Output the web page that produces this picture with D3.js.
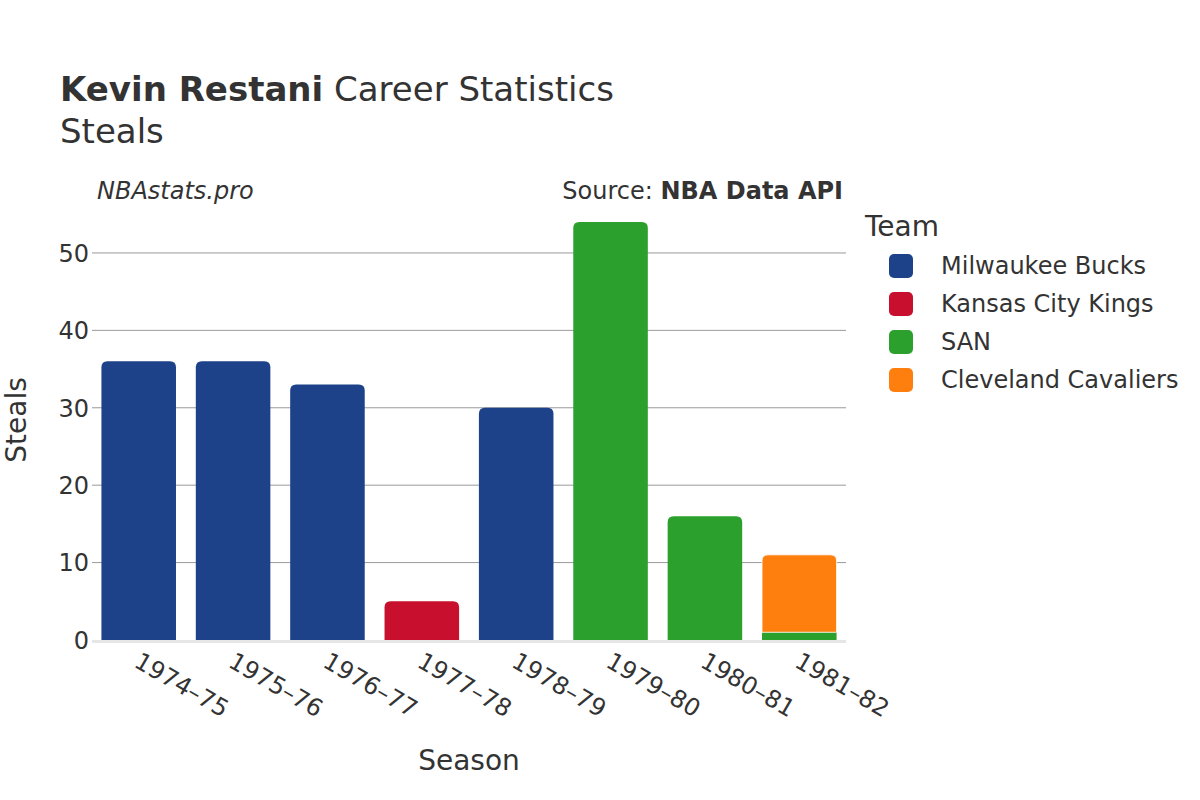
<!DOCTYPE html>
<html>
<head>
<meta charset="utf-8">
<script src="https://d3js.org/d3.v7.min.js"></script>
<style>
  body { margin: 0; background: #fff; }
  text { font-family: "DejaVu Sans", sans-serif; fill: #333; }
</style>
</head>
<body>
<script>
const seasons = ['1974–75', '1975–76', '1976–77', '1977–78', '1978–79', '1979–80', '1980–81', '1981–82'];
const teams = ['Milwaukee Bucks', 'Kansas City Kings', 'SAN', 'Cleveland Cavaliers'];
const teamColors = ['#1d428a', '#c8102e', '#2ca02c', '#ff7f0e'];
// steals per season, per team (stack order bottom to top)
const milwaukee = [36, 36, 33, 0, 30, 0, 0, 0];
const kansasCity = [0, 0, 0, 5, 0, 0, 0, 0];
const san = [0, 0, 0, 0, 0, 54, 16, 1];
const cleveland = [0, 0, 0, 0, 0, 0, 0, 10];
const yTicks = [0, 10, 20, 30, 40, 50];

const series = [milwaukee, kansasCity, san, cleveland];

const width = 1200, height = 800;
const margin = { top: 210, right: 354, bottom: 160, left: 92 };

const svg = d3.select('body').append('svg')
    .attr('width', width)
    .attr('height', height);

const x = d3.scaleBand()
    .domain(seasons)
    .range([margin.left, width - margin.right])
    .paddingInner(0.21)
    .paddingOuter(0.1);

const y = d3.scaleLinear()
    .domain([0, 55.55])
    .range([height - margin.bottom, margin.top]);

// grid
svg.append('g')
    .selectAll('line')
    .data(yTicks.filter(d => d > 0))
    .join('line')
    .attr('x1', margin.left)
    .attr('x2', width - margin.right)
    .attr('y1', d => y(d))
    .attr('y2', d => y(d))
    .attr('stroke', '#999')
    .attr('stroke-width', 1);

// bars
const stacked = seasons.map((s, i) => {
    let base = 0;
    return series.map((arr, t) => {
        const seg = { season: s, team: t, y0: base, y1: base + arr[i] };
        base += arr[i];
        return seg;
    }).filter(d => d.y1 > d.y0);
});

const roundTop = (x0, x1, yb, yt, r) => {
    r = Math.min(r, (yb - yt), (x1 - x0) / 2);
    return `M${x0},${yb}V${yt + r}Q${x0},${yt} ${x0 + r},${yt}H${x1 - r}Q${x1},${yt} ${x1},${yt + r}V${yb}Z`;
};

svg.append('g')
    .selectAll('path')
    .data(stacked.flat())
    .join('path')
    .attr('d', d => {
        const x0 = x(d.season), x1 = x0 + x.bandwidth();
        const yb = y(d.y0), yt = y(d.y1);
        const isTop = stacked[seasons.indexOf(d.season)].slice(-1)[0] === d;
        if (isTop) return roundTop(x0, x1, yb, yt, 6);
        return `M${x0},${yb}V${yt}H${x1}V${yb}Z`;
    })
    .attr('fill', d => teamColors[d.team])
    .attr('stroke', '#fff')
    .attr('stroke-width', d => d.y0 > 0 ? 0.8 : 0);

// zero line
svg.append('line')
    .attr('x1', margin.left)
    .attr('x2', width - margin.right)
    .attr('y1', y(0) + 1.5)
    .attr('y2', y(0) + 1.5)
    .attr('stroke', '#e6e6e6')
    .attr('stroke-width', 3);

// y axis
const yAxis = svg.append('g')
    .attr('transform', `translate(${margin.left}, 0)`)
    .call(d3.axisLeft(y).tickValues(yTicks).tickSize(0).tickPadding(3));
yAxis.select('.domain').remove();
yAxis.selectAll('text')
    .style('font-size', '24px')
    .attr('dy', '0.35em');

// x axis
const xAxis = svg.append('g')
    .attr('transform', `translate(0, ${y(0)})`)
    .call(d3.axisBottom(x).tickSize(0).tickPadding(0));
xAxis.select('.domain').remove();
xAxis.selectAll('text')
    .style('font-size', '24px')
    .attr('text-anchor', 'start')
    .attr('dy', 0)
    .attr('transform', 'translate(-6, 26) rotate(30)');

// titles
const title = svg.append('text')
    .attr('x', 60)
    .attr('y', 101)
    .style('font-size', '34px');
title.append('tspan').style('font-weight', 'bold').text('Kevin Restani');
title.append('tspan').text(' Career Statistics');

svg.append('text')
    .attr('x', 60)
    .attr('y', 143)
    .style('font-size', '34px')
    .text('Steals');

svg.append('text')
    .attr('x', 97)
    .attr('y', 199)
    .style('font-size', '24px')
    .style('font-style', 'italic')
    .text('NBAstats.pro');

const src = svg.append('text')
    .attr('x', 843)
    .attr('y', 199)
    .attr('text-anchor', 'end')
    .style('font-size', '24px');
src.append('tspan').text('Source: ');
src.append('tspan').style('font-weight', 'bold').text('NBA Data API');

svg.append('text')
    .attr('x', 469)
    .attr('y', 770)
    .attr('text-anchor', 'middle')
    .style('font-size', '28px')
    .text('Season');

svg.append('text')
    .attr('transform', `translate(26, 420) rotate(-90)`)
    .attr('text-anchor', 'middle')
    .style('font-size', '28px')
    .text('Steals');

// legend
svg.append('text')
    .attr('x', 865)
    .attr('y', 236)
    .style('font-size', '28px')
    .text('Team');

const legend = svg.append('g')
    .selectAll('g')
    .data(teams)
    .join('g')
    .attr('transform', (d, i) => `translate(889, ${266 + i * 38})`);

legend.append('rect')
    .attr('x', 0)
    .attr('y', -12)
    .attr('width', 24)
    .attr('height', 24)
    .attr('rx', 5)
    .attr('fill', (d, i) => teamColors[i]);

legend.append('text')
    .attr('x', 52)
    .attr('y', 0)
    .attr('dy', '0.35em')
    .style('font-size', '24px')
    .text(d => d);
</script>
</body>
</html>
